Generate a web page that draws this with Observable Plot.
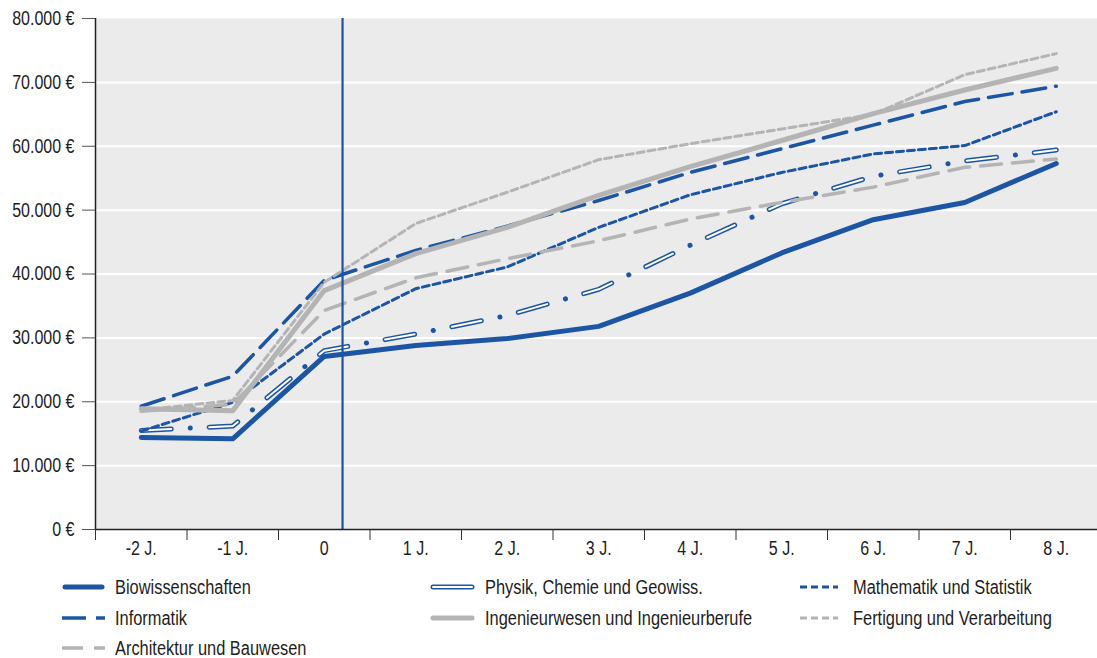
<!DOCTYPE html>
<html>
<head>
<meta charset="utf-8">
<script src="https://cdn.jsdelivr.net/npm/d3@7"></script>
<script src="https://cdn.jsdelivr.net/npm/@observablehq/plot@0.6"></script>
<style>
  html, body { margin: 0; padding: 0; background: #fff; }
  body { font-family: "Liberation Sans", Arial, sans-serif; color: #1e1e1e; }
  #chart { width: 1097px; }
  #legend { position: relative; width: 1097px; height: 92px; font-size: 20px; }
  .item { position: absolute; display: flex; align-items: center; height: 24px; white-space: nowrap; }
  .item svg { flex: none; }
  .item span { display: inline-block; transform: scaleX(0.82); transform-origin: left center; }
</style>
</head>
<body>
<div id="chart"></div>
<div id="legend"></div>
<script>
// ---- data ----
const years = [-2, -1, 0, 1, 2, 3, 4, 5, 6, 7, 8];
const xLabels = ["-2 J.", "-1 J.", "0", "1 J.", "2 J.", "3 J.", "4 J.", "5 J.", "6 J.", "7 J.", "8 J."];
const yTicks = [0, 10000, 20000, 30000, 40000, 50000, 60000, 70000, 80000];
const seriesNames = [
  "Biowissenschaften",
  "Physik, Chemie und Geowiss.",
  "Mathematik und Statistik",
  "Informatik",
  "Ingenieurwesen und Ingenieurberufe",
  "Fertigung und Verarbeitung",
  "Architektur und Bauwesen"
];
const biowissenschaften = [14400, 14200, 27100, 28800, 29900, 31800, 37000, 43300, 48500, 51200, 57300];
const physik            = [15500, 16200, 28000, 30600, 33500, 37600, 44500, 51000, 55300, 57700, 59400];
const mathematik        = [15400, 19900, 30600, 37700, 41100, 47300, 52400, 55900, 58800, 60100, 65400];
const informatik        = [19300, 24000, 39000, 43700, 47500, 51500, 55900, 59600, 63300, 67000, 69400];
const ingenieurwesen    = [18900, 18600, 37400, 43200, 47300, 52300, 56800, 60900, 65100, 68800, 72200];
const fertigung         = [18700, 20200, 38700, 47900, 52800, 57900, 60400, 62700, 65000, 71200, 74500];
const architektur       = [18500, 19600, 34300, 39400, 42400, 45200, 48600, 51200, 53600, 56700, 58000];
const referenceLine = [0.2];

// ---- styles ----
const BLUE = "#1b55a4";
const GREY = "#b4b4b4";
const FONT = '"Liberation Sans", Arial, sans-serif';
const SQUEEZE = 0.8;

const toRows = (vals) => years.map((y, i) => ({x: y, v: vals[i]}));
const boundaries = d3.range(-2.5, 9, 1);

const locale = d3.formatLocale({decimal: ",", thousands: ".", grouping: [3], currency: ["", " €"]});
const fmt = locale.format("$,");

const lineOpts = (extra) => Object.assign({x: "x", y: "v", strokeLinejoin: "round"}, extra);

const plot = Plot.plot({
  width: 1097,
  height: 566,
  marginLeft: 95,
  marginRight: 0,
  marginTop: 18,
  marginBottom: 37,
  style: {fontFamily: FONT, fontSize: "20px", color: "#1e1e1e", background: "white", overflow: "visible"},
  x: {type: "linear", domain: [-2.5, 8.5], range: [95, 1101.5]},
  y: {domain: [0, 80000]},
  marks: [
    Plot.frame({fill: "#ebebeb", stroke: "none"}),
    Plot.gridY(yTicks.slice(1, -1), {stroke: "white", strokeOpacity: 1, strokeWidth: 2}),
    // series
    Plot.line(toRows(biowissenschaften), lineOpts({stroke: BLUE, strokeWidth: 5, strokeLinecap: "round"})),
    Plot.line(toRows(physik), lineOpts({stroke: BLUE, strokeWidth: 5, strokeLinecap: "round", strokeDasharray: "30,19,0.1,18.9"})),
    Plot.line(toRows(physik), lineOpts({stroke: "white", strokeWidth: 2, strokeLinecap: "round", strokeDasharray: "30,38"})),
    Plot.line(toRows(mathematik), lineOpts({stroke: BLUE, strokeWidth: 3, strokeDasharray: "7,4"})),
    Plot.line(toRows(informatik), lineOpts({stroke: BLUE, strokeWidth: 3.5, strokeDasharray: "24,10"})),
    Plot.line(toRows(ingenieurwesen), lineOpts({stroke: GREY, strokeWidth: 5, strokeLinecap: "round"})),
    Plot.line(toRows(fertigung), lineOpts({stroke: GREY, strokeWidth: 3, strokeDasharray: "7,4"})),
    Plot.line(toRows(architektur), lineOpts({stroke: GREY, strokeWidth: 3.5, strokeDasharray: "21,11"})),
    // reference vertical line
    Plot.ruleX(referenceLine, {stroke: BLUE, strokeWidth: 2.2}),
    // axes
    Plot.ruleY([0], {stroke: "#222", strokeWidth: 1.5}),
    Plot.ruleX([-2.5], {stroke: "#222", strokeWidth: 1.5}),
    Plot.axisY(yTicks, {tickSize: 13, tickPadding: 8, tickFormat: fmt, stroke: "#555", fill: "#1e1e1e", label: null}),
    Plot.axisX(boundaries, {tickSize: 11, tickFormat: () => "", stroke: "#333", label: null}),
    Plot.axisX(years, {tickSize: 0, tickPadding: 11, tickFormat: (d) => xLabels[years.indexOf(d)], fill: "#1e1e1e", label: null})
  ]
});
// condensed look: squeeze every text horizontally around its anchor
d3.select(plot).selectAll("text").each(function () {
  const t = this.getAttribute("transform") || "";
  this.setAttribute("transform", (t + ` scale(${SQUEEZE},1)`).trim());
});
document.getElementById("chart").appendChild(plot);

// ---- legend ----
const legendStyles = [
  {stroke: BLUE, width: 5, dash: null, hollow: false},
  {stroke: BLUE, width: 5, dash: null, hollow: true},
  {stroke: BLUE, width: 3, dash: "7,4", hollow: false},
  {stroke: BLUE, width: 3.5, dash: "24,10", hollow: false},
  {stroke: GREY, width: 5, dash: null, hollow: false},
  {stroke: GREY, width: 3, dash: "7,4", hollow: false},
  {stroke: GREY, width: 3.5, dash: "21,11", hollow: false}
];
const colLeft = [62, 430, 800];
const colSwatch = [43, 45, 38];
const colTextGap = [10, 10, 15];
const rowTop = [9, 40, 70];
const legend = d3.select("#legend");
seriesNames.forEach((name, i) => {
  const col = i % 3, row = Math.floor(i / 3);
  const st = legendStyles[i];
  const item = legend.append("div").attr("class", "item")
    .style("left", colLeft[col] + "px").style("top", rowTop[row] + "px");
  const w = colSwatch[col];
  const svg = item.append("svg").attr("width", w).attr("height", 12)
    .style("margin-right", colTextGap[col] + "px");
  const ln = svg.append("line").attr("x1", st.dash ? 0 : 3).attr("x2", st.dash ? w : w - 3)
    .attr("y1", 6).attr("y2", 6).attr("stroke", st.stroke).attr("stroke-width", st.width)
    .attr("stroke-linecap", st.dash ? "butt" : "round");
  if (st.dash) ln.attr("stroke-dasharray", st.dash);
  if (st.hollow) {
    svg.append("line").attr("x1", 3).attr("x2", w - 3).attr("y1", 6).attr("y2", 6)
      .attr("stroke", "white").attr("stroke-width", 2).attr("stroke-linecap", "round");
  }
  item.append("span").text(name);
});
</script>
</body>
</html>
